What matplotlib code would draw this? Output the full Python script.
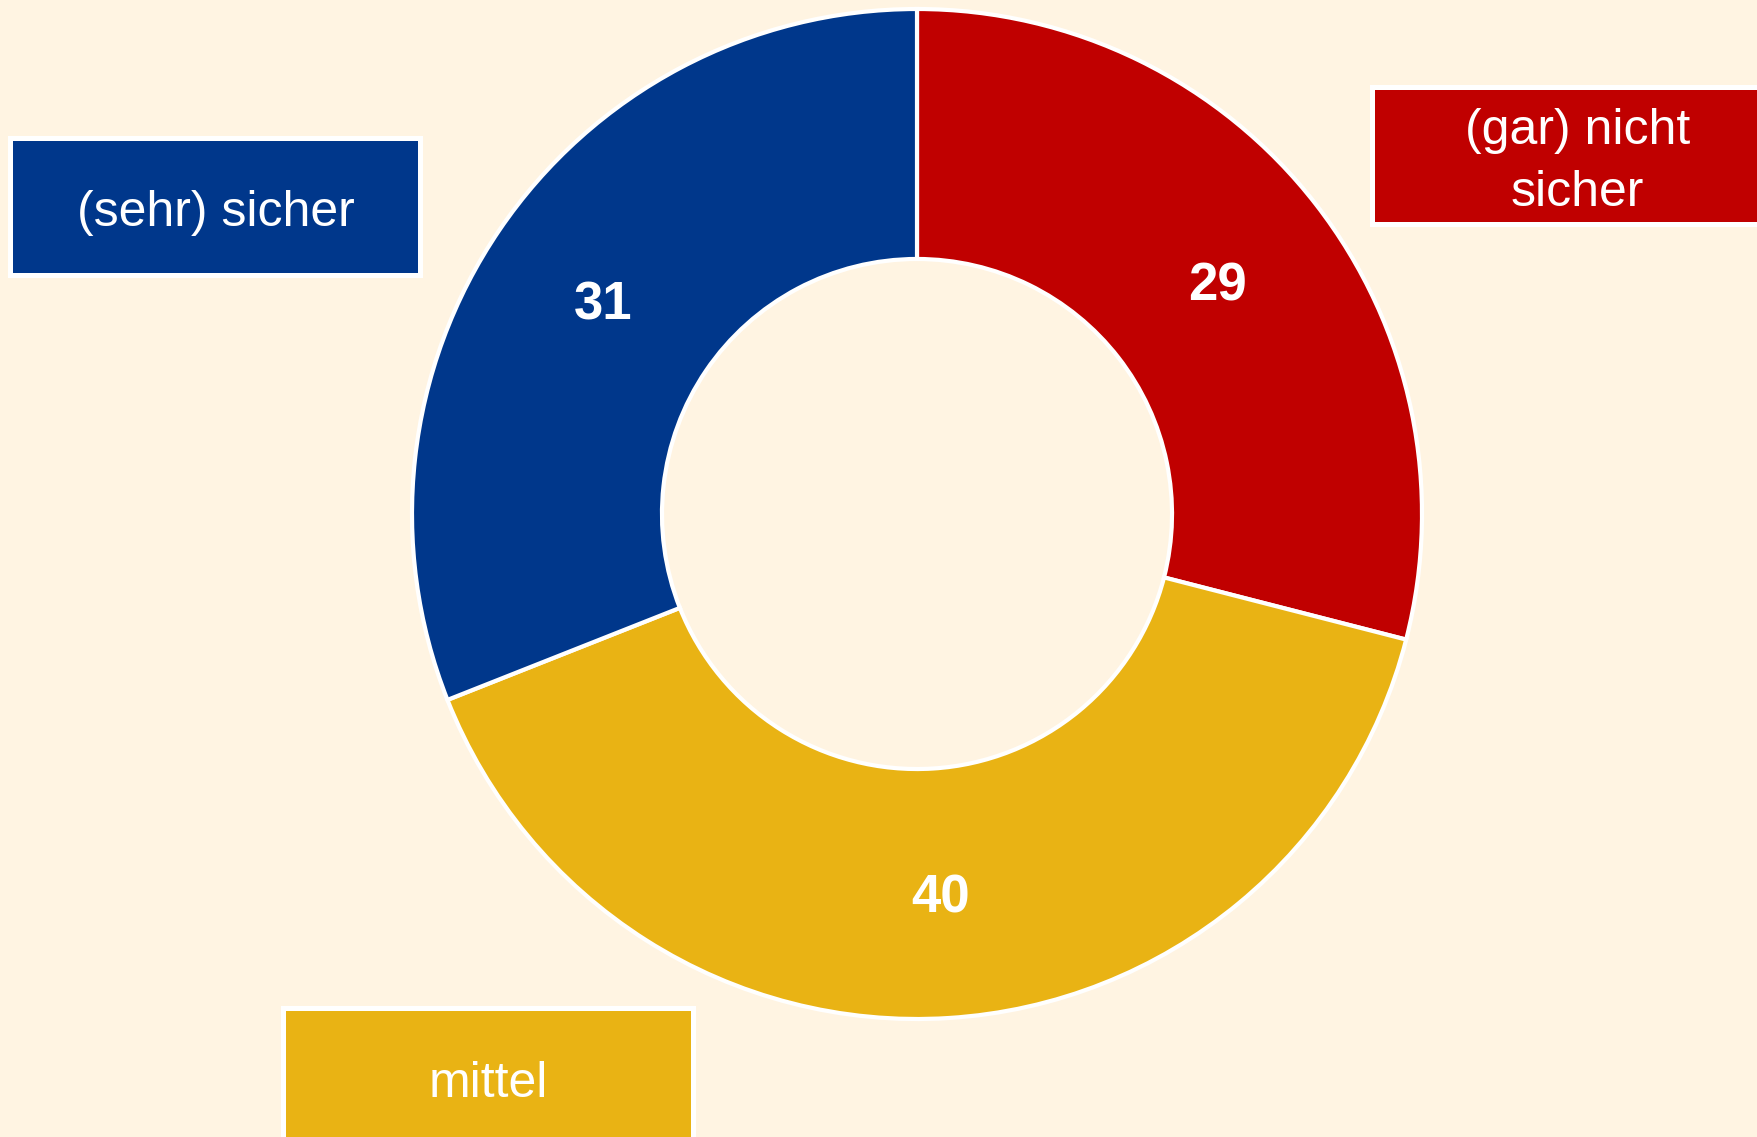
import matplotlib.pyplot as plt
from matplotlib.patches import Rectangle
import numpy as np

plt.rcParams['font.family'] = ['Liberation Sans', 'DejaVu Sans']

# data
labels = ["(gar) nicht\nsicher", "mittel", "(sehr) sicher"]
values = [29, 40, 31]
colors = ["#C00000", "#E9B314", "#00378B"]
bg = "#FFF4E2"

W, H = 1758, 1137
fig = plt.figure(figsize=(W / 100, H / 100), dpi=100, facecolor=bg)
ax = fig.add_axes([0, 0, 1, 1])

cx, cy, R = 917, H - 514, 505
wedges, _ = ax.pie(values, colors=colors, startangle=90, counterclock=False,
                   center=(cx, cy), radius=R, frame=True,
                   wedgeprops=dict(width=R * 0.495, edgecolor="white", linewidth=3))
ax.set_xlim(0, W)
ax.set_ylim(0, H)
ax.set_aspect("equal")
ax.axis("off")

# value labels in the middle of each ring segment
for w, v in zip(wedges, values):
    ang = np.deg2rad((w.theta1 + w.theta2) / 2)
    r = R - R * 0.495 / 2
    ax.text(cx + r * np.cos(ang), cy + r * np.sin(ang) - 5, str(v), color="white",
            fontsize=38, fontweight="bold", ha="center", va="center")

# label boxes (x0, y_top, width, height in pixels from top)
boxes = [(1372.5, 86.5, 410, 137), (283.5, 1008.5, 410, 137), (10.5, 137.5, 410, 137)]
for (x0, yt, bw, bh), lab, col in zip(boxes, labels, colors):
    ax.add_patch(Rectangle((x0, H - yt - bh), bw, bh, facecolor=col,
                           edgecolor="white", linewidth=3.6, clip_on=False))
    ax.text(x0 + bw / 2, H - yt - bh / 2 - 7, lab, color="white", fontsize=36,
            ha="center", va="center", linespacing=1.45)

fig.savefig("out.png", dpi=100, facecolor=bg)
